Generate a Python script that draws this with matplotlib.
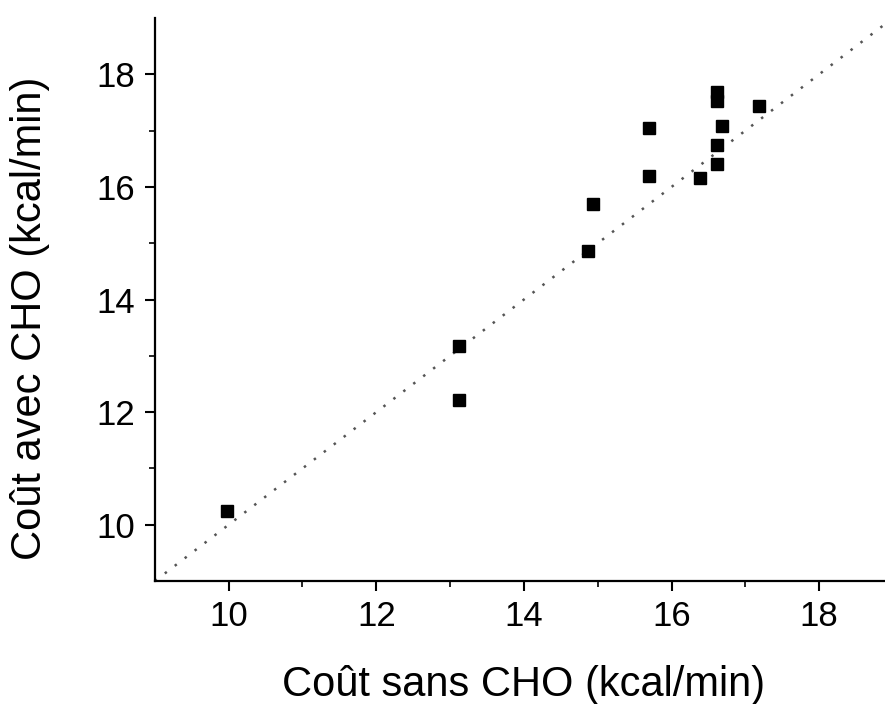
import numpy as np
import matplotlib.pyplot as plt

## Données (kcal/min)
cout_sans = [9.98, 13.12, 13.12, 14.87, 14.93, 15.70, 15.70, 16.39,
             16.61, 16.61, 16.69, 16.61, 16.61, 17.19]
cout_avec = [10.24, 13.18, 12.22, 14.87, 15.70, 16.20, 17.04, 16.16,
             16.40, 16.75, 17.09, 17.53, 17.69, 17.43]
ligne_id = [9, 19] # droite y = x

plt.rcParams['font.family'] = ['Liberation Sans', 'DejaVu Sans']

fig = plt.figure(figsize=(8.85, 7.04), dpi=100)
ax = fig.add_axes([0.175, 0.1747, 0.834, 0.7997])

ax.plot(ligne_id, ligne_id, linestyle=(0, (1, 4)), color="#555555", linewidth=1.8)
ax.plot(cout_sans, cout_avec, "s", color="black", markersize=8)

ax.set_xlim(9, 19)
ax.set_ylim(9, 19)
ax.set_xticks([10, 12, 14, 16, 18])
ax.set_yticks([10, 12, 14, 16, 18])
ax.set_xticks([11, 13, 15, 17], minor=True)
ax.set_yticks([11, 13, 15, 17], minor=True)

for s in ["top", "right"]:
    ax.spines[s].set_visible(False)
for s in ["left", "bottom"]:
    ax.spines[s].set_linewidth(1.6)

ax.tick_params(which="major", direction="out", length=7, width=1.5, labelsize=25, pad=7)
ax.tick_params(which="minor", direction="out", length=4, width=1.2)

ax.set_xlabel("Coût sans CHO (kcal/min)", fontsize=30, labelpad=23)
ax.set_ylabel("Coût avec CHO (kcal/min)", fontsize=30)
ax.yaxis.set_label_coords(-0.142, 0.467)

fig.savefig("out.png", dpi=100)
